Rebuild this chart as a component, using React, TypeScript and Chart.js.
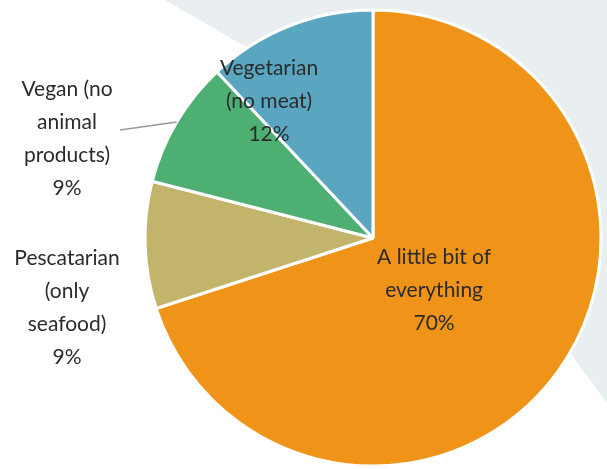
import React, { useEffect, useRef } from "react";
import { Chart, registerables } from "chart.js";

Chart.register(...registerables);

const categories = [
  "A little bit of everything",
  "Pescatarian (only seafood)",
  "Vegan (no animal products)",
  "Vegetarian (no meat)",
];
const labelLines = [
  ["A little bit of", "everything"],
  ["Pescatarian", "(only", "seafood)"],
  ["Vegan (no", "animal", "products)"],
  ["Vegetarian", "(no meat)"],
];
const shares = [70, 9, 9, 12];
const colors = ["#ef9419", "#c2b46b", "#4daf72", "#5aa6c0"];

// label block centre, in units of the pie radius, relative to the pie centre
const labelOffsets = [
  [0.268, 0.23],
  [-1.342, 0.307],
  [-1.342, -0.434],
  [-0.456, -0.601],
];

const FONT = "21px Lato, 'Open Sans', sans-serif";
const LINE_H = 33;

const backgroundPlugin = {
  id: "bgBand",
  beforeDraw(chart: any) {
    const ctx = chart.ctx;
    const w = chart.width;
    const h = chart.height;
    ctx.save();
    ctx.fillStyle = "#ffffff";
    ctx.fillRect(0, 0, w, h);
    ctx.fillStyle = "#e9eef1";
    ctx.beginPath();
    ctx.moveTo(165, 0);
    ctx.lineTo(w, 0);
    ctx.lineTo(w, 403);
    ctx.lineTo(576, 361);
    ctx.lineTo(417, 146);
    ctx.closePath();
    ctx.fill();
    ctx.restore();
  },
};

const labelPlugin = {
  id: "pieLabels",
  afterDatasetsDraw(chart: any) {
    const ctx = chart.ctx;
    const meta = chart.getDatasetMeta(0);
    ctx.save();
    ctx.font = FONT;
    ctx.fillStyle = "#2b2b2b";
    ctx.textAlign = "center";
    ctx.textBaseline = "middle";
    meta.data.forEach((arc: any, i: number) => {
      const r = arc.outerRadius;
      const cx = arc.x + labelOffsets[i][0] * r;
      const cy = arc.y + labelOffsets[i][1] * r;
      const lines = [...labelLines[i], shares[i] + "%"];
      const top = cy - ((lines.length - 1) * LINE_H) / 2;
      lines.forEach((t, k) => ctx.fillText(t, cx, top + k * LINE_H));
      if (i === 2) {
        const mid = (arc.startAngle + arc.endAngle) / 2;
        ctx.strokeStyle = "#9a9a9a";
        ctx.lineWidth = 1.5;
        ctx.beginPath();
        ctx.moveTo(cx + 53, cy - 9);
        ctx.lineTo(arc.x + Math.cos(mid) * r, arc.y + Math.sin(mid) * r);
        ctx.stroke();
      }
    });
    ctx.restore();
  },
};

export default function App() {
  const ref = useRef<HTMLCanvasElement>(null);
  useEffect(() => {
    document.body.style.margin = "0";
    const chart = new Chart(ref.current!, {
      type: "pie",
      data: {
        labels: categories,
        datasets: [
          {
            data: shares,
            backgroundColor: colors,
            borderColor: "#ffffff",
            borderWidth: 3,
          },
        ],
      },
      options: {
        responsive: false,
        animation: false,
        radius: 228,
        layout: { padding: { left: 145, right: 6, top: 10, bottom: 3 } },
        plugins: {
          legend: { display: false },
          tooltip: { enabled: false },
        },
      } as any,
      plugins: [backgroundPlugin, labelPlugin],
    });
    return () => chart.destroy();
  }, []);
  return (
    <div style={{ width: 607, height: 469 }}>
      <canvas ref={ref} width={607} height={469} style={{ display: "block" }} />
    </div>
  );
}
